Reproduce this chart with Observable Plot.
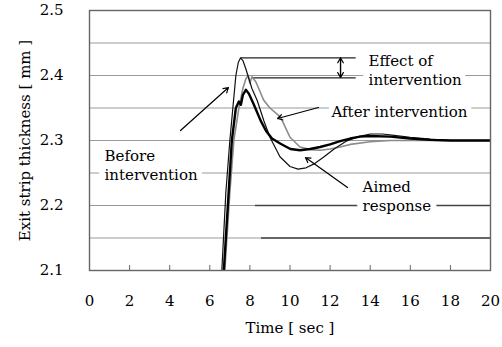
<!DOCTYPE html>
<html>
<head>
<meta charset="utf-8">
<script src="https://cdn.jsdelivr.net/npm/d3@7"></script>
<script src="https://cdn.jsdelivr.net/npm/@observablehq/plot@0.6"></script>
<style>
  html, body { margin: 0; padding: 0; background: #fff; }
  #chart svg { display: block; }
</style>
</head>
<body>
<div id="chart"></div>
<script>
// --- Data ---
const beforeT = [6.6, 6.8, 7.0, 7.15, 7.3, 7.42, 7.53, 7.65, 7.8, 7.95, 8.1, 8.36, 8.7, 9.0, 9.5, 10.0, 10.4, 10.8, 11.2, 11.7, 12.2, 12.8, 13.4, 14.0, 14.6, 15.2, 16.0, 17.0, 18.0, 19.0, 20.0];
const beforeY = [2.10, 2.22, 2.30, 2.35, 2.40, 2.42, 2.427, 2.423, 2.41, 2.395, 2.38, 2.362, 2.33, 2.305, 2.275, 2.26, 2.256, 2.258, 2.264, 2.275, 2.287, 2.299, 2.306, 2.31, 2.31, 2.308, 2.305, 2.302, 2.30, 2.30, 2.30];

const afterT = [6.75, 7.0, 7.2, 7.45, 7.65, 7.8, 7.92, 8.0, 8.1, 8.3, 8.69, 9.0, 9.53, 10.0, 10.5, 11.0, 11.5, 12.0, 12.5, 13.0, 14.0, 15.0, 16.0, 18.0, 20.0];
const afterY = [2.10, 2.22, 2.30, 2.35, 2.38, 2.395, 2.40, 2.388, 2.398, 2.39, 2.362, 2.35, 2.336, 2.305, 2.29, 2.286, 2.285, 2.287, 2.29, 2.294, 2.298, 2.30, 2.30, 2.30, 2.30];

const aimedT = [6.7, 6.9, 7.1, 7.3, 7.45, 7.55, 7.65, 7.8, 7.95, 8.2, 8.53, 8.8, 9.1, 9.53, 10.02, 10.5, 11.0, 11.5, 12.0, 12.5, 13.0, 13.5, 14.0, 15.0, 16.0, 17.0, 18.0, 20.0];
const aimedY = [2.10, 2.20, 2.30, 2.35, 2.36, 2.355, 2.37, 2.378, 2.372, 2.355, 2.331, 2.315, 2.303, 2.295, 2.287, 2.285, 2.287, 2.29, 2.294, 2.299, 2.303, 2.306, 2.307, 2.306, 2.303, 2.301, 2.30, 2.30];

const xTicks = [0, 2, 4, 6, 8, 10, 12, 14, 16, 18, 20];
const yTicks = [2.1, 2.2, 2.3, 2.4, 2.5];
const yGrid = [2.15, 2.2, 2.25, 2.3, 2.35, 2.4, 2.45];

// Annotation texts and anchor points (data units)
const labelText = ["Effect of\nintervention", "After intervention", "Before\nintervention", "Aimed\nresponse"];
const labelX = [13.92, 12.07, 0.75, 13.62];
const labelY = [2.409, 2.345, 2.2635, 2.2155];

// Arrows (data units)
const arrowX1 = [4.54, 11.42, 12.87, 12.52, 12.52];
const arrowY1 = [2.3154, 2.3508, 2.2277, 2.397, 2.427];
const arrowX2 = [6.93, 9.38, 10.77, 12.52, 12.52];
const arrowY2 = [2.3815, 2.3338, 2.2738, 2.427, 2.397];

// Reference lines for "Effect of intervention"
const refY = [2.427, 2.3965];
const refX1 = [7.55, 8.18];
const refX2 = [13.3, 13.3];

// Darker segments on two gridlines
const darkY = [2.2, 2.15];
const darkX1 = [8.28, 8.58];
const darkX2 = [20, 20];

const series = [
  ...beforeT.map((t, i) => ({t, v: beforeY[i], s: "Before intervention"})),
  ...afterT.map((t, i) => ({t, v: afterY[i], s: "After intervention"})),
  ...aimedT.map((t, i) => ({t, v: aimedY[i], s: "Aimed response"}))
];
const labels = labelText.map((text, i) => ({text, x: labelX[i], y: labelY[i]}));
const arrows = arrowX1.map((x1, i) => ({x1, y1: arrowY1[i], x2: arrowX2[i], y2: arrowY2[i]}));
const refs = refY.map((y, i) => ({y, x1: refX1[i], x2: refX2[i]}));
const darks = darkY.map((y, i) => ({y, x1: darkX1[i], x2: darkX2[i]}));

const chart = Plot.plot({
  width: 502,
  height: 347,
  marginLeft: 89,
  marginRight: 12,
  marginTop: 10,
  marginBottom: 77,
  style: {fontFamily: "DejaVu Serif", fontSize: "15px", color: "#000", background: "#fff"},
  x: {domain: [0, 20]},
  y: {domain: [2.1, 2.5]},
  marks: [
    Plot.gridY(yGrid, {stroke: "#999", strokeOpacity: 1, strokeWidth: 1.2}),
    Plot.ruleY(darks, {y: "y", x1: "x1", x2: "x2", stroke: "#444", strokeWidth: 1.3}),
    Plot.ruleY(refs, {y: "y", x1: "x1", x2: "x2", stroke: "#222", strokeWidth: 1.2}),
    Plot.line(series.filter(d => d.s === "After intervention"), {x: "t", y: "v", stroke: "#8a8a8a", strokeWidth: 1.6, clip: true}),
    Plot.line(series.filter(d => d.s === "Before intervention"), {x: "t", y: "v", stroke: "#111", strokeWidth: 1.2, clip: true}),
    Plot.line(series.filter(d => d.s === "Aimed response"), {x: "t", y: "v", stroke: "#000", strokeWidth: 2.4, clip: true}),
    Plot.arrow(arrows, {x1: "x1", y1: "y1", x2: "x2", y2: "y2", stroke: "#000", strokeWidth: 1.2, headLength: 7, bend: 0}),
    Plot.text(labels, {x: "x", y: "y", text: "text", textAnchor: "start", lineAnchor: "middle", lineHeight: 1.25, fill: "#000", stroke: "white", strokeWidth: 12, fontSize: 15}),
    Plot.frame({stroke: "#666", strokeWidth: 1.4}),
    Plot.axisX(xTicks, {tickSize: 0, tickPadding: 25, label: null, fontSize: 15}),
    Plot.axisX(xTicks, {tickSize: 5, text: null, dy: -5, stroke: "#666", label: null}),
    Plot.axisX({ticks: [], label: "Time [ sec ]", labelAnchor: "center", labelOffset: 62, labelArrow: "none", fontSize: 15}),
    Plot.axisY(yTicks, {tickSize: 0, tickPadding: 26, tickFormat: d3.format(".1f"), label: null, fontSize: 15}),
    Plot.axisY({ticks: [], label: "Exit strip thickness [ mm ]", labelAnchor: "center", labelOffset: 70, labelArrow: "none", fontSize: 15})
  ]
});
document.getElementById("chart").appendChild(chart);
</script>
</body>
</html>
